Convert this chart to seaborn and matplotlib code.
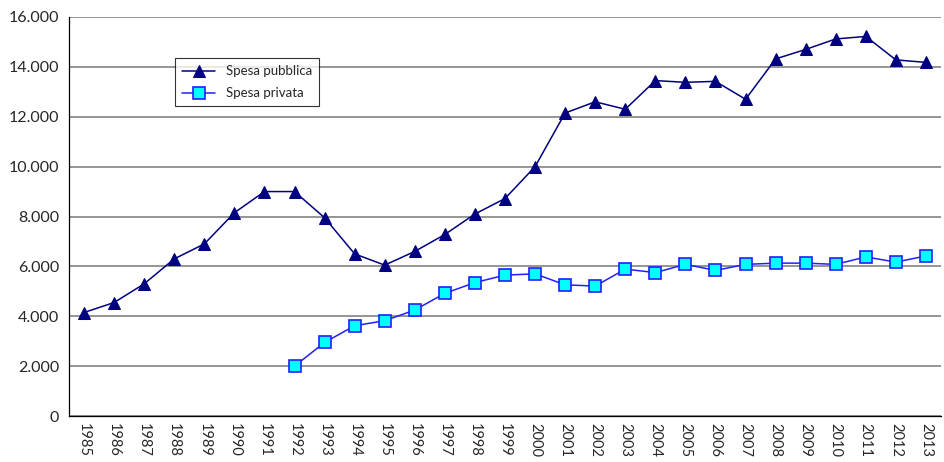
import numpy as np
import pandas as pd
import seaborn as sns
import matplotlib.pyplot as plt
from matplotlib.ticker import FuncFormatter, FixedLocator

# data
years = list(range(1985, 2014))
spesa_pubblica = [4150, 4550, 5300, 6300, 6900, 8150, 9000, 9000, 7950, 6500,
                  6050, 6600, 7280, 8100, 8720, 10000, 12150, 12600, 12300, 13450,
                  13380, 13420, 12700, 14320, 14700, 15120, 15220, 14280, 14180]
privata_years = list(range(1992, 2014))
spesa_privata = [2000, 2950, 3620, 3820, 4250, 4920, 5350, 5650, 5700, 5260,
                 5210, 5890, 5750, 6080, 5840, 6080, 6130, 6130, 6080, 6380,
                 6170, 6420]

df_pub = pd.DataFrame({"anno": years, "valore": spesa_pubblica})
df_priv = pd.DataFrame({"anno": privata_years, "valore": spesa_privata})

sns.set_style("white")
plt.rcParams["font.family"] = ["Lato", "DejaVu Sans"]

fig = plt.figure(figsize=(9.44, 4.62), dpi=100)
ax = fig.add_axes([69 / 944, 1 - 416 / 462, (941 - 69) / 944, (416 - 17) / 462])

sns.lineplot(data=df_pub, x="anno", y="valore", ax=ax, color="#000080",
             marker="^", markersize=9, markerfacecolor="#000080",
             markeredgecolor="#000080", linewidth=1.1, label="Spesa pubblica")
sns.lineplot(data=df_priv, x="anno", y="valore", ax=ax, color="#2020ff",
             marker="s", markersize=8, markerfacecolor="#00ffff",
             markeredgecolor="#2020ff", markeredgewidth=1.2, linewidth=1.1,
             label="Spesa privata")

ax.set_xlim(1984.5, 2013.5)
ax.set_ylim(0, 16000)
ax.set_yticks(np.arange(0, 16001, 2000))
ax.yaxis.set_major_formatter(FuncFormatter(lambda v, p: f"{int(v):,}".replace(",", ".")))
ax.yaxis.grid(True, color="#8c8c8c", linewidth=1.3)
ax.set_axisbelow(True)

ax.set_xticks(years)
ax.set_xticklabels([str(y) for y in years], rotation=270, fontsize=10.5)
ax.xaxis.set_minor_locator(FixedLocator(np.arange(1984.5, 2014, 1)))
ax.tick_params(axis="x", which="major", length=0, pad=5)
ax.tick_params(axis="x", which="minor", length=5, width=0.8, color="black", direction="out")
ax.tick_params(axis="y", which="major", length=4, width=0.8, color="black",
               direction="out", labelsize=11.5, pad=3)

ax.set_xlabel("")
ax.set_ylabel("")
for s in ["top", "right"]:
    ax.spines[s].set_visible(False)
for s in ["left", "bottom"]:
    ax.spines[s].set_color("black")
    ax.spines[s].set_linewidth(0.9)

leg = ax.legend(loc="upper left", bbox_to_anchor=((175 - 69) / 872, (416 - 58) / 399),
                borderaxespad=0, frameon=True, fancybox=False, fontsize=9.5,
                handlelength=2.5, borderpad=0.55, labelspacing=0.75)
leg.get_frame().set_edgecolor("black")
leg.get_frame().set_linewidth(0.8)

fig.savefig("out.png", dpi=100)
